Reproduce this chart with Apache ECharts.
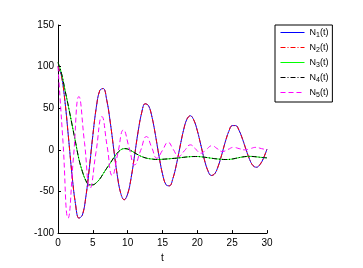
<!DOCTYPE html>
<html>
<head>
<meta charset="utf-8">
<script src="https://cdn.jsdelivr.net/npm/echarts@6/dist/echarts.min.js"></script>
<style>html,body{margin:0;padding:0;background:#fff}#c{width:363px;height:268px}</style>
</head>
<body>
<div id="c"></div>
<script>
const tVals = [0,0.5,1,1.5,2,2.5,3,3.5,4,4.5,5,5.5,6,6.5,7,7.5,8,8.5,9,9.5,10,10.5,11,11.5,12,12.5,13,13.5,14,14.5,15,15.5,16,16.5,17,17.5,18,18.5,19,19.5,20,20.5,21,21.5,22,22.5,23,23.5,24,24.5,25,25.5,26,26.5,27,27.5,28,28.5,29,29.5,30];
const n1 = [100,88.8,58.2,15.3,-29.2,-64.3,-82.0,-78.3,-56.3,-21.6,17.4,51.1,71.4,73.7,59.7,33.3,0.9,-30.0,-52.0,-60,-52.9,-33.5,-6.3,21.9,44.2,55.4,53,39.1,17.2,-7.6,-28.9,-41.8,-43.2,-34.2,-17.5,3.2,22.9,36.8,41,35.7,23,5.9,-11.4,-24.7,-30.8,-28.6,-19.5,-5.8,9.2,21.8,29.1,29.2,23.2,12.6,0.1,-11.4,-19,-20.9,-17.5,-9.9,1];
const n2 = [100,88.8,58.2,15.3,-29.2,-64.3,-82.0,-78.3,-56.3,-21.6,17.4,51.1,71.4,73.7,59.7,33.3,0.9,-30.0,-52.0,-60,-52.9,-33.5,-6.3,21.9,44.2,55.4,53,39.1,17.2,-7.6,-28.9,-41.8,-43.2,-34.2,-17.5,3.2,22.9,36.8,41,35.7,23,5.9,-11.4,-24.7,-30.8,-28.6,-19.5,-5.8,9.2,21.8,29.1,29.2,23.2,12.6,0.1,-11.4,-19,-20.9,-17.5,-9.9,1];
const n3 = [105,92,72,52,31,10,-11,-26,-37,-42,-42,-39.5,-35,-28.5,-22,-16,-9.5,-4,0,1.5,1,-1,-3.5,-6,-8,-9.5,-10.5,-11,-11.5,-11.5,-11.3,-11,-10.7,-10.3,-10,-9.5,-9,-8.5,-8.2,-8,-8,-8.3,-8.8,-9.4,-10,-10.6,-11,-11.4,-11.6,-11.5,-11,-10.2,-9.3,-8.5,-8,-7.8,-8,-8.4,-8.9,-9.3,-9.6];
const n4 = [105,92,72,52,31,10,-11,-26,-37,-42,-42,-39.5,-35,-28.5,-22,-16,-9.5,-4,0,1.5,1,-1,-3.5,-6,-8,-9.5,-10.5,-11,-11.5,-11.5,-11.3,-11,-10.7,-10.3,-10,-9.5,-9,-8.5,-8.2,-8,-8,-8.3,-8.8,-9.4,-10,-10.6,-11,-11.4,-11.6,-11.5,-11,-10.2,-9.3,-8.5,-8,-7.8,-8,-8.4,-8.9,-9.3,-9.6];
const t5 = [0,0.72,1.45,2.22,3.0,3.8,4.6,5.45,6.3,7.05,7.8,8.6,9.4,10.2,11.0,11.85,12.7,13.45,14.2,15.0,15.8,16.55,17.3,18.15,19.0,19.75,20.5,21.3,22.1,22.85,23.6,24.4,25.2,26.0,26.8,27.6,28.4,29.2,30];
const n5 = [100,9,-82,-9,64,9,-46,-3,40,4.5,-31,-3.5,24,3,-18,-1,16,3,-10,-0.5,9,0.5,-8,-1,6,1,-4,0.5,5,1.5,-2,0.5,3,1.5,0,1.5,3,1.5,0];
const xTicks = [0,5,10,15,20,25,30];
const yTicks = [-100,-50,0,50,100,150];
const names = ['N1','N2','N3','N4','N5'];
const subs = ['1','2','3','4','5'];

function pairs(t, v){ return t.map((x,i)=>[x,v[i]]); }
const font = '"Liberation Sans", Arial, sans-serif';
const chart = echarts.init(document.getElementById('c'), null, {renderer:'canvas'});
const mk = (name, t, v, color, type, smooth) => ({
  name, type:'line', data: pairs(t,v), showSymbol:false, symbol:'none', smooth: smooth,
  lineStyle:{color, width:1, type}, itemStyle:{color}, animation:false
});
chart.setOption({
  animation:false,
  grid:{left:58, right:96, top:25, bottom:30},
  xAxis:{type:'value', min:xTicks[0], max:xTicks[xTicks.length-1], interval:5,
    name:'t', nameLocation:'middle', nameGap:13,
    nameTextStyle:{color:'#000', fontSize:10, fontFamily:font},
    axisLine:{onZero:false, lineStyle:{color:'#000', width:1}},
    axisTick:{inside:true, length:3, lineStyle:{color:'#000'}},
    axisLabel:{color:'#000', fontSize:10, fontFamily:font, margin:5},
    splitLine:{show:false}},
  yAxis:{type:'value', min:yTicks[0], max:yTicks[yTicks.length-1], interval:50,
    axisLine:{show:true, onZero:false, lineStyle:{color:'#000', width:1}},
    axisTick:{show:true, inside:true, length:3, lineStyle:{color:'#000'}},
    axisLabel:{color:'#000', fontSize:10, fontFamily:font, margin:4},
    splitLine:{show:false}},
  legend:{orient:'vertical', left:275, top:25, itemWidth:24, itemHeight:10, itemGap:4,
    padding:[3,4,3,5], borderColor:'#000', borderWidth:1, backgroundColor:'#fff',
    lineStyle:{width:1}, itemStyle:{opacity:0},
    textStyle:{color:'#000', fontSize:9, fontFamily:font,
      rich:{m:{fontSize:9, fontFamily:font, color:'#000'}, s:{fontSize:7, fontFamily:font, color:'#000', padding:[6,0,0,0]}}},
    formatter:(n)=>'{m|N}{s|'+subs[names.indexOf(n)]+'}{m|(t)}',
    data:names},
  series:[
    mk('N1', tVals, n1, '#0000ff', 'solid', 0.4),
    mk('N2', tVals, n2, '#ff0000', [5,2,1,2], 0.4),
    mk('N3', tVals, n3, '#00ff00', 'solid', 0.4),
    mk('N4', tVals, n4, '#000000', [5,2,1,2], 0.4),
    mk('N5', t5, n5, '#ff00ff', [5,3], 0.5)
  ]
});
</script>
</body>
</html>
